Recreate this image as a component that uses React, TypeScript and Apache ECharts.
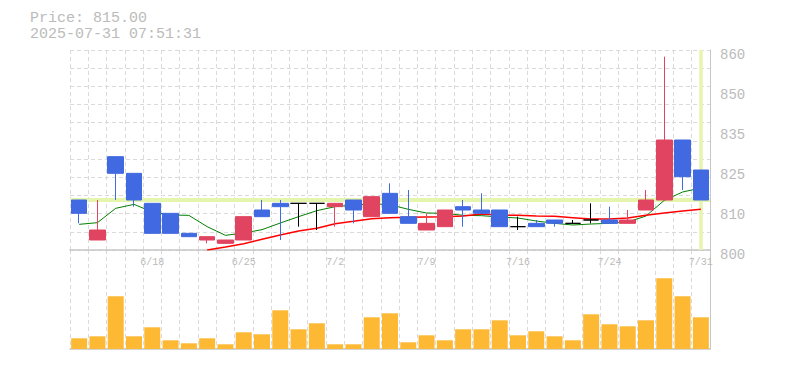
import React, { useEffect, useRef } from 'react';
import * as echarts from 'echarts';

// ---- data ----
const dates = ['6/12','6/13','6/16','6/17','6/18','6/19','6/20','6/23','6/24','6/25','6/26','6/27','6/30','7/1','7/2','7/3','7/4','7/7','7/8','7/9','7/10','7/11','7/14','7/15','7/16','7/17','7/18','7/22','7/23','7/24','7/25','7/28','7/29','7/30','7/31'];

const openP  = [815,803,828,823,814,811,805,803,802,803,812,814,814,814,813,815,810,817,810,806,807,813,812,812,807,808,809,808,809,809,808,812,815,833,824];
const closeP = [811,806,823,815,805,805,804,804,803,810,810,813,814,814,814,812,816,811,808,808,812,812,811,807,807,807,808,808,809,808,809,815,833,822,815];
const lowP   = [808,803,815,813,805,805,804,802,802,803,810,803,807,806,807,808,810,811,808,806,807,807,811,807,806,807,807,808,808,808,808,812,815,818,815];
const highP  = [815,815,828,823,814,811,805,804,803,810,815,815,814,814,814,815,816,820,818,811,812,815,817,812,810,809,809,809,814,813,812,818,858,833,824];

const maShort = [807.7,808.2,812.5,813.7,811.4,810.5,810.4,807.0,804.4,805.1,806.1,808.1,810.0,811.8,813.0,813.5,813.9,813.6,812.2,811.1,811.0,810.4,810.3,809.9,809.6,808.7,808.0,807.5,807.8,808.0,808.4,810.2,814.9,817.4,818.6];
const maLong = [null,null,null,null,null,null,null,800.0,800.9,801.9,803.2,804.5,805.7,806.5,807.9,808.6,809.4,809.7,809.8,809.9,810.0,810.2,810.8,810.5,810.4,810.2,810.1,809.7,809.3,809.3,809.6,810.4,811.1,811.7,812.2];

const volume = [10700,12700,52700,12700,21700,8700,5700,10700,4700,16700,14700,38700,19700,25700,4700,4700,31700,35700,6700,13700,8700,19700,19700,28700,13700,17700,12700,8700,34700,24700,22700,28700,70700,52700,31700];

const priceTickLabels = ['800','810','825','835','850','860'];
const currentPrice = 815;
const titleLines = ['Price: 815.00', '2025-07-31 07:51:31'];

// ---- styles ----
const FONT = '"Liberation Mono", "DejaVu Sans Mono", monospace';
const TEXT = '#bbbbbb';
const GRID = '#dadada';
const AXIS = '#c6c6c6';
const UP = '#e04460';
const DOWN = '#4169e1';
const MARK = '#e6f5ad';

export default function App() {
  const ref = useRef<HTMLDivElement>(null);
  useEffect(() => {
    const chart = echarts.init(ref.current!, null, { renderer: 'svg' });
    const dashed = { show: true, lineStyle: { color: GRID, width: 1, type: [4, 3] as any } };
    const candles = dates.map((_, i) => [openP[i], closeP[i], lowP[i], highP[i]]);
    chart.setOption({
      animation: false,
      backgroundColor: '#ffffff',
      graphic: [
        {
          type: 'text', left: 30, top: 10,
          style: { text: titleLines.join('\n'), font: `15px ${FONT}`, fill: TEXT, lineHeight: 16 },
        },
      ],
      grid: [
        { left: 70, top: 50, width: 640, height: 200 },
        { left: 70, top: 250, width: 640, height: 99 },
        { left: 70, top: 55, width: 640, height: 200 },
      ],
      xAxis: [
        {
          type: 'category', gridIndex: 0, data: dates, boundaryGap: true,
          axisLine: { show: true, lineStyle: { color: AXIS, width: 1.5 } },
          axisTick: { show: false },
          axisLabel: {
            interval: (i: number) => i % 5 === 4,
            color: TEXT, fontFamily: FONT, fontSize: 10, margin: 7,
          },
          splitLine: { ...dashed, interval: 0 },
        },
        {
          type: 'category', gridIndex: 1, data: dates, boundaryGap: true,
          axisLine: { show: true, lineStyle: { color: AXIS, width: 1.5 } },
          axisTick: { show: false },
          axisLabel: { show: false },
          splitLine: { ...dashed, interval: 0 },
        },
        {
          type: 'category', gridIndex: 2, data: dates, show: false,
        },
      ],
      yAxis: [
        {
          type: 'value', gridIndex: 0, position: 'right', min: 800, max: 860,
          axisLine: { show: true, lineStyle: { color: AXIS, width: 1 } },
          axisTick: { show: false }, axisLabel: { show: false }, splitLine: { show: false },
        },
        {
          type: 'value', gridIndex: 2, position: 'right', min: 0, max: 5, interval: 1,
          axisLine: { show: false }, axisTick: { show: false }, splitLine: { show: false },
          axisLabel: {
            formatter: (v: number) => priceTickLabels[Math.round(v)] ?? '',
            color: TEXT, fontFamily: FONT, fontSize: 14, margin: 10,
          },
        },
        {
          type: 'value', gridIndex: 0, position: 'left', min: 0, max: 11, interval: 1,
          axisLine: { show: false }, axisTick: { show: false }, axisLabel: { show: false },
          splitLine: dashed,
        },
        {
          type: 'value', gridIndex: 1, position: 'right', min: 0, max: 99000,
          axisLine: { show: true, lineStyle: { color: AXIS, width: 1 } },
          axisTick: { show: false }, axisLabel: { show: false }, splitLine: { show: false },
        },
      ],
      series: [
        {
          name: 'marks', type: 'line', xAxisIndex: 0, yAxisIndex: 0, z: 1,
          data: dates.map(() => null), showSymbol: false, silent: true,
          markLine: {
            z: 1,
            silent: true, symbol: 'none', label: { show: false }, animation: false,
            lineStyle: { color: MARK, type: 'solid', width: 4, opacity: 1 },
            data: [
              { yAxis: currentPrice, lineStyle: { color: MARK, width: 4, type: 'solid' } },
              { xAxis: dates[dates.length - 1], lineStyle: { color: MARK, width: 3.5, type: 'solid' } },
            ],
          },
        },
        {
          name: 'MA short', type: 'line', xAxisIndex: 0, yAxisIndex: 0, z: 2,
          data: maShort, showSymbol: false, smooth: false,
          lineStyle: { color: '#008000', width: 1 },
        },
        {
          name: 'MA long', type: 'line', xAxisIndex: 0, yAxisIndex: 0, z: 2,
          data: maLong, showSymbol: false, smooth: false,
          lineStyle: { color: '#ff0000', width: 1.5 },
        },
        {
          name: 'Price', type: 'candlestick', xAxisIndex: 0, yAxisIndex: 0, z: 3,
          data: candles, barWidth: 16,
          itemStyle: {
            color: UP, color0: DOWN, borderColor: UP, borderColor0: DOWN,
            borderColorDoji: '#000000', borderWidth: 1,
          },
        },
        {
          name: 'Volume', type: 'bar', xAxisIndex: 1, yAxisIndex: 3,
          data: volume, barWidth: 16, itemStyle: { color: '#fdb834' },
        },
      ],
    });
    return () => chart.dispose();
  }, []);
  return <div ref={ref} style={{ position: 'fixed', left: 0, top: 0, width: 785, height: 370 }} />;
}
